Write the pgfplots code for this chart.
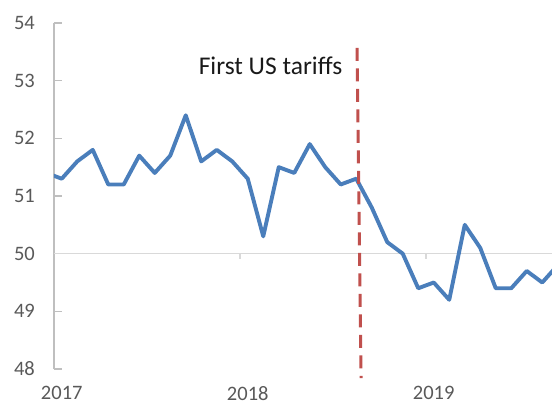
\documentclass[border=0pt]{standalone}
\usepackage{fontspec}
\setmainfont{Carlito}
\usepackage{pgfplots}
\pgfplotsset{compat=1.18}
\definecolor{pmiblue}{HTML}{4A7EBB}
\definecolor{tarred}{HTML}{C0504D}
\definecolor{axgray}{HTML}{BFBFBF}
\definecolor{zgray}{HTML}{D9D9D9}
\definecolor{lblgray}{HTML}{595959}
\begin{document}
\begin{tikzpicture}
\path[use as bounding box] (-54pt,-36pt) rectangle (498pt,369pt);
\begin{axis}[
  scale only axis, width=498pt, height=346pt,
  xmin=-0.5, xmax=31.63, ymin=48, ymax=54,
  axis y line*=left, axis x line*=bottom,
  x axis line style={draw=none},
  y axis line style={axgray, line width=1.5pt},
  xtick={0,12,24}, xticklabels={2017,2018,2019},
  xtick style={draw=none},
  ytick={48,49,50,51,52,53,54},
  ytick style={axgray, line width=1.5pt},
  tick align=inside, major tick length=8pt,
  /pgf/number format/assume math mode=true,
  tick label style={font=\fontsize{20.5}{22}\selectfont, text=lblgray, inner sep=0pt},
  xticklabel style={anchor=north, yshift=-17pt},
  yticklabel style={anchor=east, xshift=-19pt},
]
\addplot[zgray, line width=1.5pt] coordinates {(-0.5,50) (31.63,50)};
\addplot[zgray, line width=1.5pt] coordinates {(11.5,50) (11.5,49.91)};
\addplot[zgray, line width=1.5pt] coordinates {(23.5,50) (23.5,49.91)};
\addplot[pmiblue, line width=3.9pt, line join=round] coordinates {
(-1,51.4)
(0,51.3) (1,51.6) (2,51.8) (3,51.2) (4,51.2) (5,51.7) (6,51.4) (7,51.7) (8,52.4) (9,51.6) (10,51.8) (11,51.6)
(12,51.3) (13,50.3) (14,51.5) (15,51.4) (16,51.9) (17,51.5) (18,51.2) (19,51.3) (20,50.8) (21,50.2) (22,50.0) (23,49.4)
(24,49.5) (25,49.2) (26,50.5) (27,50.1) (28,49.4) (29,49.4) (30,49.7) (31,49.5) (32,49.8)
};
\end{axis}
\begin{axis}[
  scale only axis, width=498pt, height=346pt,
  xmin=-0.5, xmax=31.63, ymin=48, ymax=54,
  hide axis, clip=false,
]
\addplot[tarred, line width=3pt, dash pattern=on 13pt off 7.5pt] coordinates {(19.05,53.57) (19.31,47.84)};
\node[anchor=base, inner sep=0pt, font=\fontsize{25.5}{27}\selectfont, text=black!90] at (axis cs:13.47,53.10) {First US tariffs};
\end{axis}
\end{tikzpicture}
\end{document}
